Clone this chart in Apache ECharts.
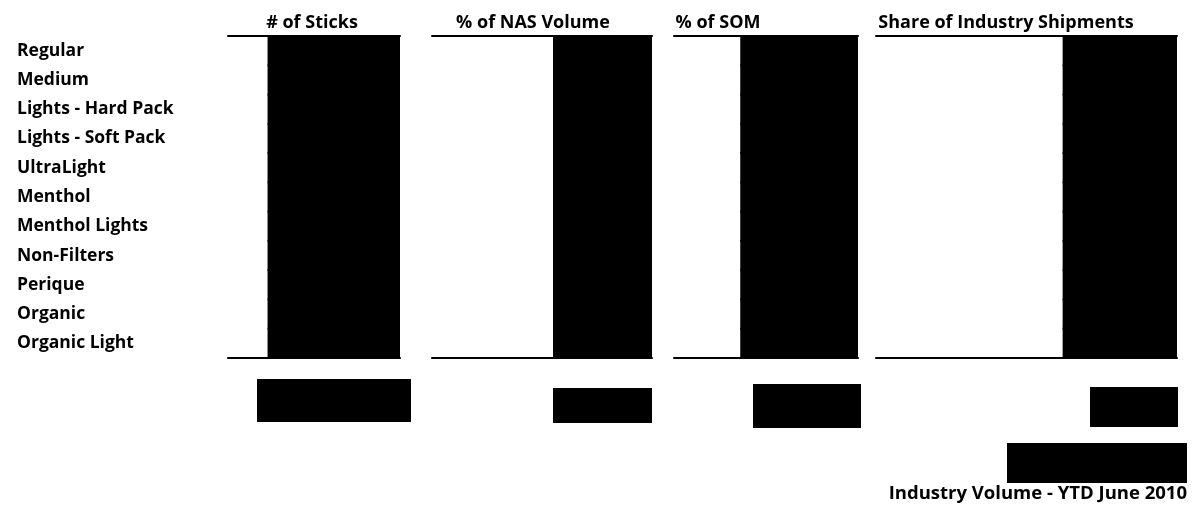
<!DOCTYPE html>
<html>
<head>
<meta charset="utf-8">
<title>Industry Volume - YTD June 2010</title>
<script src="https://cdn.jsdelivr.net/npm/echarts@6/dist/echarts.min.js"></script>
<style>
  html, body { margin: 0; padding: 0; background: #fff; }
  #chart { width: 1193px; height: 511px; }
</style>
</head>
<body>
<div id="chart"></div>
<script>
// table rows and column headers
var rowLabels = [
  "Regular", "Medium", "Lights - Hard Pack", "Lights - Soft Pack", "UltraLight",
  "Menthol", "Menthol Lights", "Non-Filters", "Perique", "Organic", "Organic Light"
];
var columnHeaders = ["# of Sticks", "% of NAS Volume", "% of SOM", "Share of Industry Shipments"];
// values are blacked out: share of each column taken by the redaction (%)
var redactedWidth = [77, 45, 64, 38];
// totals row, fully redacted (%)
var redactedTotals = [100, 100, 100, 100];
var footerNote = [100];
var footerText = "Industry Volume - YTD June 2010";

var font = "Open Sans";
var black = "#000";

// layout of the columns (px)
var columnBox = [
  { left: 228, width: 172, pad: 4 },
  { left: 432, width: 220, pad: 18 },
  { left: 674, width: 184, pad: 96 },
  { left: 876, width: 301, pad: 41 }
];
var totalBox = [
  { left: 257, width: 154, top: 379, height: 43 },
  { left: 553, width: 99, top: 388, height: 35 },
  { left: 753, width: 108, top: 384, height: 44 },
  { left: 1090, width: 88, top: 387, height: 40 }
];
var noteBox = { left: 1007, width: 180, top: 443, height: 40 };

var grid = [], xAxis = [], yAxis = [], series = [];

function hidden() {
  return { show: false };
}

// main table columns
columnBox.forEach(function (box, i) {
  grid.push({ left: box.left, width: box.width, top: 36, height: 322 });
  xAxis.push({
    gridIndex: i,
    type: "value",
    min: 0,
    max: 100,
    inverse: true,
    position: "top",
    axisLine: { show: true, lineStyle: { color: black, width: 2 } },
    axisTick: hidden(),
    axisLabel: hidden(),
    splitLine: hidden(),
    name: columnHeaders[i],
    nameLocation: "middle",
    nameGap: 4,
    nameTextStyle: {
      fontFamily: font,
      fontSize: 18,
      fontWeight: "bold",
      color: black,
      padding: [0, box.pad, 0, 0]
    }
  });
  xAxis.push({
    gridIndex: i,
    type: "value",
    min: 0,
    max: 100,
    position: "bottom",
    axisLine: { show: true, lineStyle: { color: black, width: 2 } },
    axisTick: hidden(),
    axisLabel: hidden(),
    splitLine: hidden()
  });
  yAxis.push({
    gridIndex: i,
    type: "category",
    data: rowLabels,
    inverse: true,
    axisLine: hidden(),
    axisTick: hidden(),
    axisLabel: i === 0 ? {
      show: true,
      align: "left",
      margin: 211,
      fontFamily: font,
      fontSize: 17.5,
      fontWeight: "bold",
      color: black
    } : hidden()
  });
  series.push({
    type: "bar",
    xAxisIndex: i * 2,
    yAxisIndex: i,
    barWidth: 31,
    silent: true,
    itemStyle: { color: black },
    data: rowLabels.map(function () { return redactedWidth[i]; })
  });
});

// totals row and the note above the footer
var boxes = totalBox.concat([noteBox]);
var boxValues = redactedTotals.concat(footerNote);
boxes.forEach(function (box, j) {
  var g = grid.length;
  grid.push({ left: box.left, width: box.width, top: box.top, height: box.height });
  xAxis.push({ gridIndex: g, type: "value", min: 0, max: 100, show: false });
  yAxis.push({ gridIndex: g, type: "category", data: ["Total"], show: false });
  series.push({
    type: "bar",
    xAxisIndex: xAxis.length - 1,
    yAxisIndex: yAxis.length - 1,
    barWidth: "100%",
    silent: true,
    itemStyle: { color: black },
    data: [boxValues[j]]
  });
});

var chart = echarts.init(document.getElementById("chart"));
chart.setOption({
  backgroundColor: "#fff",
  animation: false,
  title: {
    text: footerText,
    right: 6,
    top: 484,
    padding: 0,
    textStyle: { fontFamily: font, fontSize: 18.5, fontWeight: "bold", color: black }
  },
  grid: grid,
  xAxis: xAxis,
  yAxis: yAxis,
  series: series
});
window.addEventListener("resize", function () {
  chart.resize();
});
</script>
</body>
</html>
